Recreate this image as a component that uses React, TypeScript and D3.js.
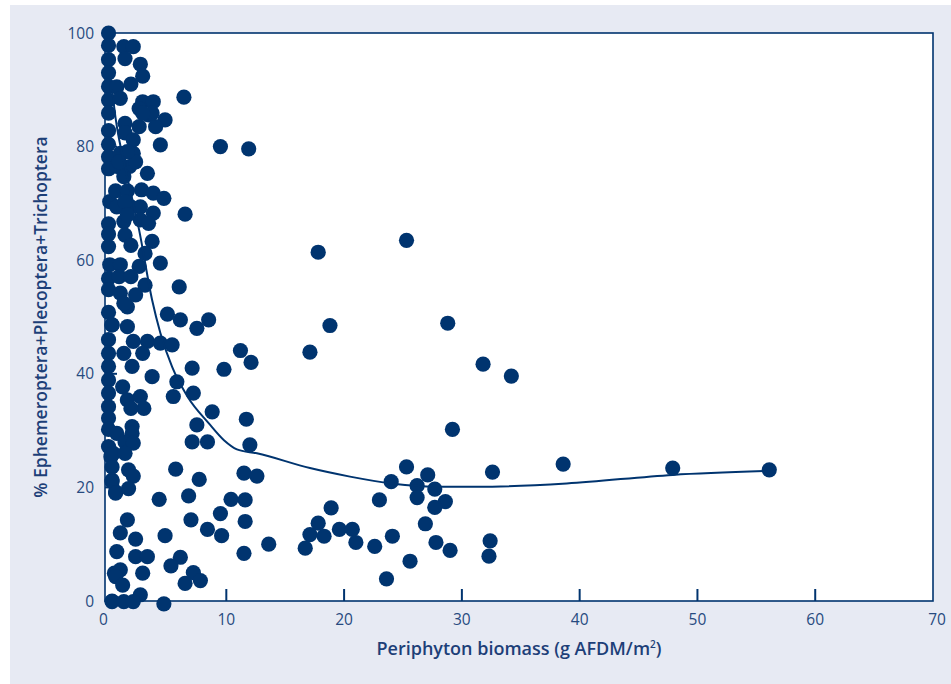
import React from 'react';
import * as d3 from 'd3';

// Periphyton biomass (g AFDM/m²) for each sample
const biomass: number[] = [
  // x ≈ 0 column
  0, 0, 0, 0, 0, 0, 0, 0, 0, 0, 0, 0.1, 0, 0, 0, 0.1, 0, 0, 0, 0.3, 0, 0, 0, 0, 0, 0, 0, 0, 0, 0.2, 0.3, 0.3, 0.6, 0.5, 0.3,
  // upper cluster
  1.3, 2.1, 1.4, 2.7, 2.9, 0.7, 1.9, 1.0, 2.9, 3.8, 6.4, 2.6, 3.4, 4.8, 4.0, 1.4, 2.6, 4.4, 1.0, 2.1, 0.7, 1.8, 2.3, 3.3, 1.3,
  0.6, 1.6, 2.8, 3.8, 4.7, 0.7, 1.9, 2.7, 3.8, 6.5, 1.3, 2.7, 3.4, 1.4, 3.7, 1.9, 3.1, 4.4, 1.0, 2.6, 0.9, 1.9, 3.1, 6.0, 1.0,
  2.3, 1.6, 1.3, 5.0, 6.1,
  1.4, 2.1, 1.6, 0.9, 1.4, 1.6, 9.5, 11.9, 3.7, 2.9,
  // middle cluster
  0.3, 1.6, 7.5, 8.5, 2.1, 3.3, 4.4, 5.4, 1.3, 2.9, 2.0, 3.7, 7.1, 1.2, 5.8, 5.5, 7.2, 1.6, 2.7, 3.0, 1.9, 2.0, 0.7, 2.0, 7.5,
  8.8, 11.2, 12.1, 9.8, 11.7, 12.0, 7.1, 8.4, 1.4, 2.1, 0.4, 1.4, 1.7, 2.1, 5.7, 0.3, 0.6, 1.7, 7.7, 11.5, 12.6,
  // lower cluster
  4.3, 6.8, 10.4, 11.6, 9.5, 1.6, 7.0, 11.6, 1.0, 8.4, 2.3, 4.8, 9.6, 13.6, 0.7, 11.5, 2.3, 3.3, 6.1, 5.3, 1.0, 0.6, 2.9, 7.2,
  6.5, 7.8, 1.2, 2.7, 0.3, 1.3, 2.1, 4.7,
  // right part
  17.8, 25.3, 18.8, 28.8, 17.1, 31.8, 34.2, 29.2, 25.3, 27.1, 24.0, 26.2, 27.7, 26.2, 23.0, 28.6, 27.7, 32.6, 38.6, 47.9, 56.1,
  18.9, 17.8, 17.1, 18.3, 19.6, 20.7, 16.7, 21.0, 22.6, 24.1, 26.9, 27.8, 29.0, 32.4, 32.3, 25.6, 23.6,
];

// % Ephemeroptera+Plecoptera+Trichoptera for each sample
const ept: number[] = [
  100, 97.8, 95.3, 93.0, 90.6, 88.2, 85.9, 82.8, 80.4, 78.2, 76.1, 70.3, 66.4, 64.6, 62.4, 59.2, 56.8, 54.8, 50.8, 48.6, 46.0, 43.6, 41.3, 38.9, 36.6, 34.2, 32.2, 30.2, 27.2, 25.4, 23.6, 21.3, 19.2, 4.9, 0,
  97.6, 97.6, 95.5, 94.5, 92.4, 90.5, 91.0, 88.5, 87.9, 87.9, 88.7, 86.7, 85.6, 84.7, 83.5, 84.1, 83.5, 80.3, 78.8, 78.8, 76.5, 76.5, 77.3, 75.3, 74.7,
  72.2, 72.2, 72.4, 71.8, 70.9, 69.4, 69.4, 69.4, 68.3, 68.1, 66.8, 67.1, 66.5, 64.4, 63.3, 62.6, 61.2, 59.5, 59.2, 58.9, 57.1, 57.1, 55.6, 55.3, 54.2,
  53.9, 51.8, 52.4, 50.5, 49.5,
  82.4, 81.2, 79.1, 77.3, 70.3, 68.0, 80.0, 79.6, 85.9, 85.9,
  48.6, 48.3, 48.0, 49.5, 45.7, 45.7, 45.4, 45.1, 43.6, 43.6, 41.3, 39.5, 41.0, 37.7, 38.6, 36.0, 36.6, 35.4, 36.0, 33.9, 33.9, 30.7, 29.5, 29.5, 31.0,
  33.3, 44.1, 42.0, 40.8, 32.0, 27.5, 28.0, 28.0, 28.0, 27.8, 26.0, 26.0, 23.1, 22.0, 23.2, 21.0, 19.0, 19.8, 21.4, 22.5, 22.0,
  17.9, 18.5, 17.9, 17.8, 15.4, 14.3, 14.3, 14.0, 12.0, 12.6, 10.9, 11.5, 11.5, 10.0, 8.7, 8.4, 7.8, 7.8, 7.7, 6.2, 5.5, 4.3, 4.9, 5.0,
  3.1, 3.6, 2.8, 1.1, -0.1, -0.1, -0.1, -0.5,
  61.4, 63.5, 48.5, 48.9, 43.8, 41.7, 39.6, 30.2, 23.6, 22.2, 21.0, 20.3, 19.7, 18.2, 17.8, 17.5, 16.5, 22.7, 24.1, 23.4, 23.1,
  16.4, 13.7, 11.7, 11.4, 12.6, 12.6, 9.3, 10.3, 9.6, 11.4, 13.6, 10.3, 8.9, 10.6, 7.9, 7.0, 3.9,
];

// Fitted smooth curve
const fitX: number[] = [0.3, 0.6, 1.5, 2.6, 3.7, 4.4, 5.4, 6.7, 8.5, 9.8, 10.9, 12.6, 17.1, 20.5, 24.0, 28.4, 31.3, 38.9, 47.9, 56.1];
const fitY: number[] = [90, 85, 75.5, 65.3, 53, 47.2, 41.2, 36, 31.3, 28.3, 26.7, 26.0, 23.4, 21.9, 20.7, 20.1, 20.1, 20.7, 22.2, 22.9];

const xTicks: number[] = [0, 10, 20, 30, 40, 50, 60, 70];
const yTicks: number[] = [0, 20, 40, 60, 80, 100];

const NAVY = '#00346f';
const TEXT = '#274a80';
const TITLE = '#1d3f78';
const PANEL = '#e7eaf3';
const FONT = "'Open Sans', 'Noto Sans', sans-serif";

export default function App() {
  const W = 951;
  const H = 684;
  const x = d3.scaleLinear().domain([-0.3, 70]).range([105, 933]);
  const y = d3.scaleLinear().domain([0, 100]).range([601, 33]);

  const line = d3
    .line<number>()
    .x((d) => x(d))
    .y((_, i) => y(fitY[i]))
    .curve(d3.curveMonotoneX);

  const left = x(-0.3);
  const right = x(70);
  const top = y(100);
  const bottom = y(0);

  return (
    <svg
      width={W}
      height={H}
      style={{ position: 'absolute', left: 0, top: 0 }}
      fontFamily={FONT}
    >
      <rect x={0} y={0} width={W} height={H} fill="#ffffff" />
      <rect x={10} y={5} width={W - 10} height={H - 5} fill={PANEL} />
      <rect x={left} y={top} width={right - left} height={bottom - top} fill="#ffffff" />

      {/* inward ticks */}
      {xTicks.filter((t) => t > 0 && t < 70).map((t) => (
        <line key={'xt' + t} x1={x(t)} x2={x(t)} y1={bottom} y2={bottom - 12} stroke={NAVY} strokeWidth={2} />
      ))}
      {yTicks.filter((t) => t > 0 && t < 100).map((t) => (
        <line key={'yt' + t} x1={left} x2={left + 12} y1={y(t)} y2={y(t)} stroke={NAVY} strokeWidth={2} />
      ))}

      {/* frame */}
      <rect x={left} y={top} width={right - left} height={bottom - top} fill="none" stroke={NAVY} strokeWidth={1.6} />

      {/* points */}
      {biomass.map((b, i) => (
        <circle key={'p' + i} cx={x(b)} cy={y(ept[i])} r={7.6} fill={NAVY} />
      ))}

      {/* fitted curve */}
      <path d={line(fitX) || ''} fill="none" stroke={NAVY} strokeWidth={2} />

      {/* tick labels */}
      {xTicks.map((t, i) => (
        <text
          key={'xl' + t}
          x={x(t) + (i === 0 ? -5 : i === xTicks.length - 1 ? 4 : 0)}
          y={625}
          textAnchor="middle"
          fontSize={15.5}
          fill={TEXT}
        >
          {t}
        </text>
      ))}
      {yTicks.map((t) => (
        <text key={'yl' + t} x={94} y={y(t) + 5.5} textAnchor="end" fontSize={15.5} fill={TEXT}>
          {t}
        </text>
      ))}

      {/* axis titles */}
      <text x={(left + right) / 2} y={655} textAnchor="middle" fontSize={18} fontWeight={600} fill={TITLE}>
        Periphyton biomass (g AFDM/m
        <tspan dy={-7} fontSize={10}>2</tspan>
        <tspan dy={7}>)</tspan>
      </text>
      <text
        transform={`translate(47, ${(top + bottom) / 2}) rotate(-90)`}
        textAnchor="middle"
        fontSize={17.5}
        fontWeight={600}
        fill={TITLE}
      >
        % Ephemeroptera+Plecoptera+Trichoptera
      </text>
    </svg>
  );
}
